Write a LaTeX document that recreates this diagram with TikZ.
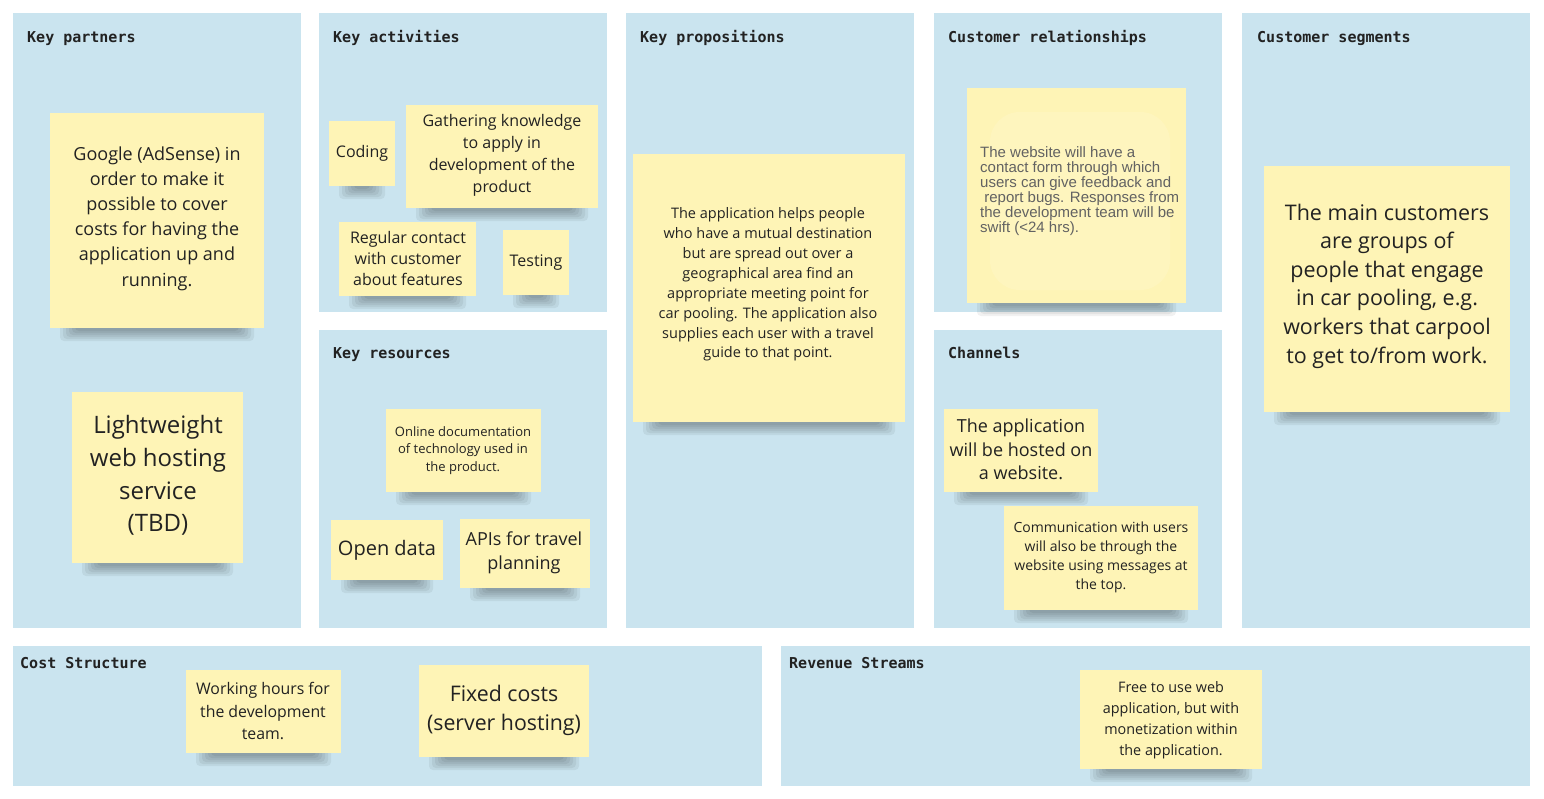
\documentclass[tikz,border=0pt]{standalone}
\usepackage{fontspec}
\setmainfont{Open Sans}
\newfontfamily\headfont{DejaVu Sans Mono}
\newfontfamily\condfont{Open Sans}[FakeStretch=0.99]
\newfontfamily\arialfont{Liberation Sans}
\definecolor{panelblue}{RGB}{202,228,239}
\definecolor{stickyyel}{RGB}{254,244,182}
\definecolor{inktext}{RGB}{34,34,34}
\definecolor{graytext}{RGB}{98,98,98}
\tikzset{
  panelbox/.style={fill=panelblue},
  head/.style={anchor=base west, inner sep=0pt, font=\headfont\bfseries\fontsize{15}{17}\selectfont, text=inktext},
  stxt/.style={align=center, inner sep=0pt, text=inktext, yshift=-2.5pt},
}
\newcommand\fsz[2]{\fontsize{#1}{#2}\selectfont}
\newcommand\stickybg[4]{%
  \foreach \i in {0,...,5}{
    \fill[black,opacity=0.055,rounded corners=4pt] (#1+10+3*\i,#4-6) rectangle (#3-10-3*\i,#4+13-2*\i);
  }
  \fill[stickyyel] (#1,#2) rectangle (#3,#4);
}
\begin{document}
\begin{tikzpicture}[x=1pt,y=-1pt]
\useasboundingbox[fill=white] (0,0) rectangle (1544,798);
% panels
\path[panelbox] (13,13) rectangle (301,628);
\path[panelbox] (319,13) rectangle (607,312);
\path[panelbox] (319,330) rectangle (607,628);
\path[panelbox] (626,13) rectangle (914,628);
\path[panelbox] (934,13) rectangle (1222,312);
\path[panelbox] (934,330) rectangle (1222,628);
\path[panelbox] (1242,13) rectangle (1530,628);
\path[panelbox] (13,646) rectangle (762,786);
\path[panelbox] (781,646) rectangle (1530,786);
% headers
\node[head] (hkp) at (27,42) {Key partners};
\node[head] (hka) at (333,42) {Key activities};
\node[head] (hkr) at (333,358) {Key resources};
\node[head] (hkprop) at (640,42) {Key propositions};
\node[head] (hcr) at (948,42) {Customer relationships};
\node[head] (hch) at (948,358) {Channels};
\node[head] (hcs) at (1257,42) {Customer segments};
\node[head] (hcost) at (20,668) {Cost Structure};
\node[head] (hrev) at (789,668) {Revenue Streams};
% stickies
\stickybg{50}{113}{264}{328}
\node[stxt, font=\fsz{18}{25.2}] (google) at (157,216) {Google (AdSense) in\\order to make it\\possible to cover\\costs for having the\\application up and\\running.};
\stickybg{72}{392}{243}{563}
\node[stxt, font=\fsz{24}{32.7}] (light) at (158,473) {Lightweight\\web hosting\\service\\(TBD)};
\stickybg{329}{121}{395}{186}
\node[stxt, font=\fsz{16}{21}] (coding) at (362,151) {Coding};
\stickybg{406}{105}{598}{208}
\node[stxt, font=\fsz{16}{22}] (gather) at (502,153) {Gathering knowledge\\to apply in\\development of the\\product};
\stickybg{339}{222}{476}{296}
\node[stxt, font=\fsz{16}{21}] (regular) at (408,256) {Regular contact\\with customer\\about features};
\stickybg{503}{230}{569}{295}
\node[stxt, font=\fsz{16}{21}] (testing) at (536,260) {Testing};
\stickybg{386}{409}{541}{492}
\node[stxt, font=\fsz{13}{17.5}] (online) at (463,448) {Online documentation\\of technology used in\\the product.};
\stickybg{331}{520}{443}{580}
\node[stxt, font=\fsz{20}{26}] (open) at (387,548) {Open data};
\stickybg{460}{519}{590}{588}
\node[stxt, font=\fsz{18}{24}] (apis) at (524,550) {APIs for travel\\planning};
\stickybg{633}{154}{905}{422}
\node[stxt, font=\fsz{14.5}{19.9}] (prop) at (768,282) {The application helps people\\who have a mutual destination\\but are spread out over a\\geographical area find an\\appropriate meeting point for\\car pooling. The application also\\supplies each user with a travel\\guide to that point.};
\stickybg{967}{88}{1186}{303}
\fill[white,opacity=0.12,rounded corners=30pt] (990,112) rectangle (1170,290);
\node[align=left, inner sep=0pt, anchor=west, text=graytext, font=\arialfont\fsz{15}{15}] (crtext) at (980,191) {The website will have a\\contact form through which\\users can give feedback and\\\ report bugs. Responses from\\the development team will be\\swift (<24 hrs).};
\stickybg{944}{409}{1098}{492}
\node[stxt, font=\fsz{18}{23.5}] (host) at (1021,447) {The application\\will be hosted on\\a website.};
\stickybg{1004}{506}{1198}{610}
\node[stxt, font=\fsz{14}{19}] (comm) at (1101,554.5) {Communication with users\\will also be through the\\website using messages at\\the top.};
\stickybg{1264}{166}{1510}{412}
\node[stxt, font=\fsz{21.5}{28.6}] (seg) at (1387,283.5) {The main customers\\are groups of\\people that engage\\in car pooling, e.g.\\workers that carpool\\to get to/from work.};
\stickybg{186}{670}{341}{753}
\node[stxt, font=\condfont\fsz{16}{22.5}] (work) at (263,708.5) {Working hours for\\the development\\team.};
\stickybg{419}{665}{589}{757}
\node[stxt, font=\condfont\fsz{21.5}{29}] (fixed) at (504,707.5) {Fixed costs\\(server hosting)};
\stickybg{1080}{670}{1262}{769}
\node[stxt, font=\condfont\fsz{14.5}{21}] (free) at (1171,717.5) {Free to use web\\application, but with\\monetization within\\the application.};
\end{tikzpicture}
\end{document}
